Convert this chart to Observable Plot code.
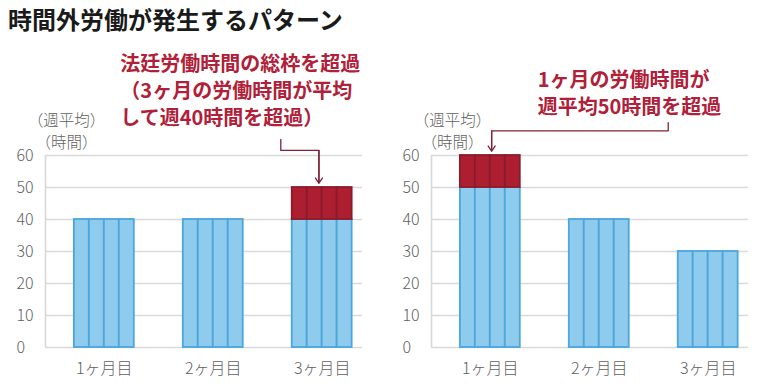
<!DOCTYPE html>
<html><head><meta charset="utf-8">
<script src="https://cdn.jsdelivr.net/npm/d3@7"></script>
<script src="https://cdn.jsdelivr.net/npm/@observablehq/plot@0.6"></script>
<style>
body{margin:0;background:#fff;font-family:"Noto Sans CJK JP","Noto Sans",sans-serif;}
#title{height:40px;line-height:38px;font-size:24px;font-weight:700;color:#1a1a1a;padding-left:8px;white-space:nowrap;}
#row{display:flex;}
#row svg{display:block;}
</style></head><body>
<div id="title">時間外労働が発生するパターン</div>
<div id="row"></div>
<script>
// ---- data ----
const months = ["1ヶ月目", "2ヶ月目", "3ヶ月目"];
const weeks = [1, 2, 3, 4];
const leftBase = [40, 40, 40];
const leftOver = [0, 0, 10];
const rightBase = [50, 40, 30];
const rightOver = [10, 0, 0];
const yTicks = [0, 10, 20, 30, 40, 50, 60];
const yLabel = "（週平均）\n（時間）";
const leftNote = "法廷労働時間の総枠を超過\n（3ヶ月の労働時間が平均\nして週40時間を超過）";
const rightNote = "1ヶ月の労働時間が\n週平均50時間を超過";
// annotation anchors in data units (month position, hours)
const leftNoteAt = {x: 1.147, y: 80.6};
const rightNoteAt = {x: 1.435, y: 79.9};
const yLabelAt = {x: 0.652, y: 68.1};
const leftLeader = [[2.62, 65], [2.62, 61.6], [2.97, 61.6], [2.97, 51.4]];
const rightLeader = [[2.633, 70.3], [2.633, 67.7], [1.012, 67.7], [1.012, 61.4]];

const xDomain = [0.46, 3.37];
const barWidth = 0.55;
const gray = "#5f5f5f";
const noteRed = "#b02038";

function panel(base, over, note, noteAt, noteSize, noteLH, leader, width, marginRight) {
  const rows = [];
  months.forEach((m, i) => {
    weeks.forEach((w, j) => {
      const x1 = (i + 1) - barWidth / 2 + j * barWidth / weeks.length;
      rows.push({x1, x2: x1 + barWidth / weeks.length, base: base[i], over: over[i]});
    });
  });
  const overRows = rows.filter(d => d.over > 0);
  const lead = leader.map(([x, y]) => ({x, y}));
  const tip = [{x1: leader[2][0], y1: leader[2][1], x2: leader[3][0], y2: leader[3][1]}];
  return Plot.plot({
    width, height: 352,
    marginTop: 115, marginBottom: 45, marginLeft: 45, marginRight,
    style: {fontFamily: '"Noto Sans CJK JP", "Noto Sans", sans-serif', fontSize: "16px", background: "#fff"},
    x: {type: "linear", domain: xDomain},
    y: {domain: [0, 60]},
    marks: [
      Plot.ruleY(yTicks, {stroke: "#d9d9d9", strokeWidth: 1.7}),
      Plot.ruleX([xDomain[0]], {y1: 0, y2: 60, stroke: "#d9d9d9", strokeWidth: 1.7}),
      Plot.rectY(rows, {x1: "x1", x2: "x2", y1: 0, y2: "base", fill: "#8fcbed", stroke: "#4aa6dc", strokeWidth: 1.8}),
      Plot.rectY(overRows, {x1: "x1", x2: "x2", y1: "base", y2: d => d.base + d.over, fill: "#ae1e31", stroke: "#8a1b2c", strokeWidth: 1.8}),
      Plot.axisY(yTicks, {tickSize: 0, tickPadding: 0, textAnchor: "start", dx: -29, fontSize: 16, fontWeight: 300, color: gray}),
      Plot.axisX([1, 2, 3], {tickSize: 0, tickPadding: 15, tickFormat: v => months[v - 1], fontSize: 16, fontWeight: 300, color: gray}),
      Plot.text([yLabelAt], {x: "x", y: "y", text: () => yLabel, textAnchor: "middle", lineAnchor: "middle", lineHeight: 1.42, fontSize: 15.5, fontWeight: 300, fill: gray}),
      Plot.text([noteAt], {x: "x", y: "y", text: () => note, textAnchor: "start", lineAnchor: "middle", lineHeight: noteLH, fontSize: noteSize, fontWeight: 700, fill: noteRed}),
      Plot.line(lead, {x: "x", y: "y", stroke: "#7d2237", strokeWidth: 1.3}),
      Plot.arrow(tip, {x1: "x1", y1: "y1", x2: "x2", y2: "y2", stroke: "#7d2237", strokeWidth: 1.3, headLength: 7, headAngle: 70})
    ]
  });
}

const row = document.getElementById("row");
row.appendChild(panel(leftBase, leftOver, leftNote, leftNoteAt, 20, 1.36, leftLeader, 386, 24));
row.appendChild(panel(rightBase, rightOver, rightNote, rightNoteAt, 20, 1.37, rightLeader, 398, 36));
</script>
</body></html>
